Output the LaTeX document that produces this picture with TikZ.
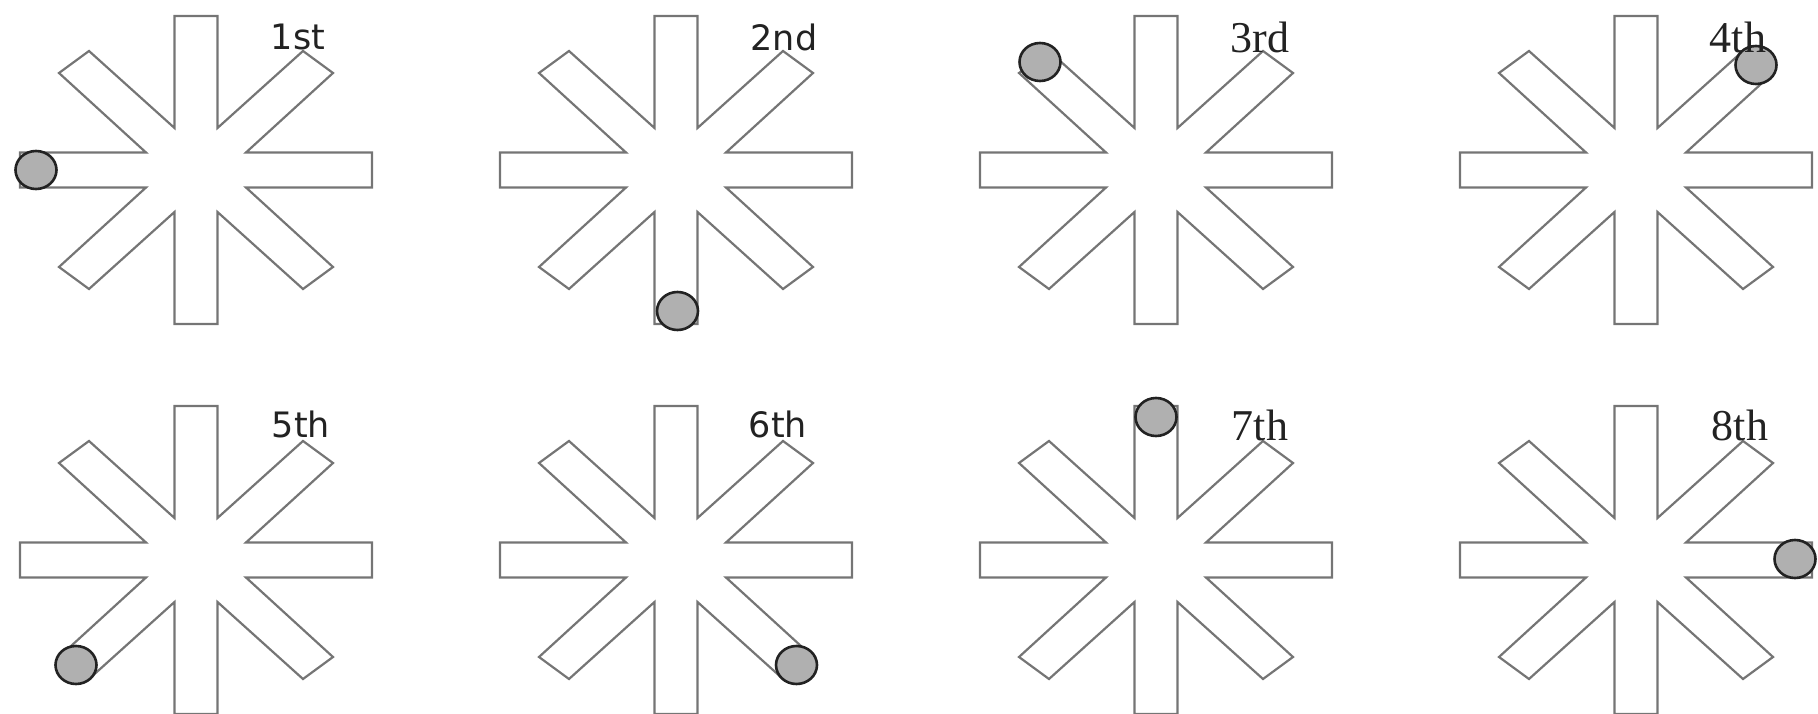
\documentclass[tikz,border=0pt]{standalone}
\usepackage{fontspec}
\newfontfamily\lblsans{DejaVu Sans}
\newfontfamily\lblserif{Liberation Serif}
\definecolor{armgray}{HTML}{757575}
\definecolor{ballfill}{HTML}{B0B0B0}
\definecolor{ballline}{HTML}{222222}
\definecolor{txt}{HTML}{222222}
\newcommand\mazestar[2]{%
  \begin{scope}[shift={(#1,#2)}]
    \draw[arm] (-21.5,-42) -- (-21.5,-154) -- (21.5,-154) -- (21.5,-42)
      -- (107,-119) -- (137,-97) -- (50,-17.5) -- (176,-17.5) -- (176,17.5)
      -- (50,17.5) -- (137,97) -- (107,119) -- (21.5,42) -- (21.5,154)
      -- (-21.5,154) -- (-21.5,42) -- (-107,119) -- (-137,97) -- (-50,17.5)
      -- (-176,17.5) -- (-176,-17.5) -- (-50,-17.5) -- (-137,-97) -- (-107,-119)
      -- cycle;
  \end{scope}}
\begin{document}
\begin{tikzpicture}[x=1pt,y=-1pt,
  arm/.style={draw=armgray,line width=2.2pt,line join=miter},
  ball/.style={draw=ballline,fill=ballfill,line width=2.6pt},
  lblS/.style={text=txt,inner sep=0pt,font=\lblsans\fontsize{35}{35}\selectfont},
  lblR/.style={text=txt,inner sep=0pt,font=\lblserif\fontsize{44}{44}\selectfont}]
\useasboundingbox (0,0) rectangle (1818,714);
% top row
\mazestar{196}{170}
\mazestar{676}{170}
\mazestar{1156}{170}
\mazestar{1636}{170}
% bottom row
\mazestar{196}{560}
\mazestar{676}{560}
\mazestar{1156}{560}
\mazestar{1636}{560}
% balls
\draw[ball] (36,170) ellipse [x radius=20.5, y radius=19];
\draw[ball] (677.5,311) ellipse [x radius=20.5, y radius=19];
\draw[ball] (1040,62) ellipse [x radius=20.5, y radius=19];
\draw[ball] (1756,65) ellipse [x radius=20.5, y radius=19];
\draw[ball] (76,665) ellipse [x radius=20.5, y radius=19];
\draw[ball] (796.5,665) ellipse [x radius=20.5, y radius=19];
\draw[ball] (1156,417) ellipse [x radius=20.5, y radius=19];
\draw[ball] (1795,559) ellipse [x radius=20.5, y radius=19];
% labels
\node[lblS] (l1) at (298,37) {1st};
\node[lblS] (l2) at (784,37) {2nd};
\node[lblR] (l3) at (1260,37) {3rd};
\node[lblR] (l4) at (1738,37) {4th};
\node[lblS] (l5) at (301,424) {5th};
\node[lblS] (l6) at (778,424) {6th};
\node[lblR] (l7) at (1260,425) {7th};
\node[lblR] (l8) at (1740,425) {8th};
\end{tikzpicture}
\end{document}
